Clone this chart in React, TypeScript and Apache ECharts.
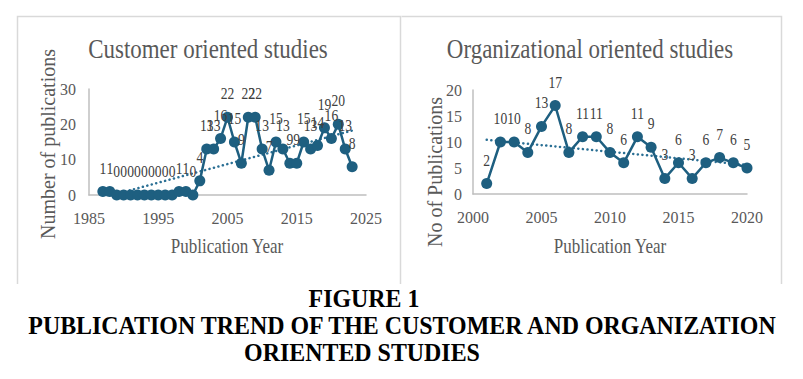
import React, { useEffect, useRef } from "react";
import * as echarts from "echarts";

const custYears = [1987, 1988, 1989, 1990, 1991, 1992, 1993, 1994, 1995, 1996, 1997, 1998, 1999, 2000, 2001, 2002, 2003, 2004, 2005, 2006, 2007, 2008, 2009, 2010, 2011, 2012, 2013, 2014, 2015, 2016, 2017, 2018, 2019, 2020, 2021, 2022, 2023];
const custCounts = [1, 1, 0, 0, 0, 0, 0, 0, 0, 0, 0, 1, 1, 0, 4, 13, 13, 16, 22, 15, 9, 22, 22, 13, 7, 15, 13, 9, 9, 15, 13, 14, 19, 16, 20, 13, 8];
const orgYears = [2001, 2002, 2003, 2004, 2005, 2006, 2007, 2008, 2009, 2010, 2011, 2012, 2013, 2014, 2015, 2016, 2017, 2018, 2019, 2020];
const orgCounts = [2, 10, 10, 8, 13, 17, 8, 11, 11, 8, 6, 11, 9, 3, 6, 3, 6, 7, 6, 5];

const custTitle = "Customer oriented studies";
const orgTitle = "Organizational oriented studies";
const custYName = "Number of publications";
const orgYName = "No of Publications";
const xName = "Publication Year";
const captionLines = ["FIGURE 1", "PUBLICATION TREND OF THE CUSTOMER AND ORGANIZATION", "ORIENTED STUDIES"];

function trend(xs: number[], ys: number[]): number[][] {
  const n = xs.length;
  const mx = xs.reduce((a, b) => a + b, 0) / n;
  const my = ys.reduce((a, b) => a + b, 0) / n;
  let sxy = 0, sxx = 0;
  for (let i = 0; i < n; i++) {
    sxy += (xs[i] - mx) * (ys[i] - my);
    sxx += (xs[i] - mx) * (xs[i] - mx);
  }
  const b = sxy / sxx;
  const a = my - b * mx;
  return [[xs[0], a + b * xs[0]], [xs[n - 1], a + b * xs[n - 1]]];
}

const SERIF = "'Liberation Serif', 'Times New Roman', serif";
const MAIN = "#1e5f80";
const GRAY = "#595959";

export default function App() {
  const ref = useRef<HTMLDivElement>(null);
  useEffect(() => {
    document.body.style.margin = "0";
    const chart = echarts.init(ref.current!, undefined, { renderer: "svg" });
    const axisLabel = { color: GRAY, fontFamily: SERIF, fontSize: 16, formatter: (v: number) => String(v) };
    const axisLine = { show: true, lineStyle: { color: "#bfbfbf", width: 1.5 } };
    const mainSeries = (xs: number[], ys: number[], idx: number) => ({
      type: "line",
      xAxisIndex: idx,
      yAxisIndex: idx,
      data: xs.map((x, i) => [x, ys[i]]),
      symbol: "circle",
      symbolSize: 11,
      itemStyle: { color: MAIN },
      lineStyle: { color: MAIN, width: 2.5 },
      z: 3,
    });
    const labelSeries = (xs: number[], ys: number[], idx: number) => ({
      type: "custom",
      coordinateSystem: "cartesian2d",
      xAxisIndex: idx,
      yAxisIndex: idx,
      data: xs.map((x, i) => [x, ys[i]]),
      encode: { x: 0, y: 1 },
      clip: false,
      z: 4,
      renderItem: (params: any, api: any) => {
        const pt = api.coord([api.value(0), api.value(1)]);
        return {
          type: "text",
          x: pt[0],
          y: pt[1] - 24,
          scaleX: 0.8,
          style: {
            text: String(api.value(1)),
            font: "17px " + SERIF,
            fill: "#404040",
            textAlign: "center",
            textVerticalAlign: "middle",
          },
        };
      },
    });
    const trendSeries = (xs: number[], ys: number[], idx: number) => ({
      type: "line",
      xAxisIndex: idx,
      yAxisIndex: idx,
      data: trend(xs, ys),
      symbol: "none",
      clip: true,
      lineStyle: { color: "#2a6f94", width: 2.5, type: [0.1, 4.5], cap: "round" },
      z: 2,
    });
    const txt = (x: number, y: number, text: string, fontSize: number, opts: any = {}) => ({
      type: "text",
      x,
      y,
      scaleX: opts.scaleX ?? 0.85,
      rotation: opts.rotation ?? 0,
      style: {
        text,
        font: (opts.bold ? "bold " : "") + fontSize + "px " + SERIF,
        fill: opts.color ?? GRAY,
        textAlign: "center",
        textVerticalAlign: "middle",
      },
    });
    chart.setOption({
      animation: false,
      grid: [
        { left: 89, top: 89, width: 277, height: 106 },
        { left: 473, top: 90, width: 274, height: 104 },
      ],
      xAxis: [
        { type: "value", gridIndex: 0, min: 1985, max: 2025, interval: 10, splitLine: { show: false }, axisTick: { show: false }, axisLine, axisLabel: { ...axisLabel, margin: 15 } },
        { type: "value", gridIndex: 1, min: 2000, max: 2020, interval: 5, splitLine: { show: false }, axisTick: { show: false }, axisLine, axisLabel: { ...axisLabel, margin: 15 } },
      ],
      yAxis: [
        { type: "value", gridIndex: 0, min: 0, max: 30, interval: 10, splitLine: { show: false }, axisTick: { show: false }, axisLine, axisLabel: { ...axisLabel, margin: 13 } },
        { type: "value", gridIndex: 1, min: 0, max: 20, interval: 5, splitLine: { show: false }, axisTick: { show: false }, axisLine, axisLabel: { ...axisLabel, margin: 11 } },
      ],
      series: [
        trendSeries(custYears, custCounts, 0),
        mainSeries(custYears, custCounts, 0),
        labelSeries(custYears, custCounts, 0),
        trendSeries(orgYears, orgCounts, 1),
        mainSeries(orgYears, orgCounts, 1),
        labelSeries(orgYears, orgCounts, 1),
      ],
      graphic: [
        { type: "polyline", shape: { points: [[17.5, 284], [17.5, 16.5], [400.5, 16.5], [400.5, 284]] }, style: { stroke: "#d9d9d9", fill: "none", lineWidth: 1.5 } },
        { type: "polyline", shape: { points: [[401.5, 16.5], [781.5, 16.5], [781.5, 284]] }, style: { stroke: "#d9d9d9", fill: "none", lineWidth: 1.5 } },
        txt(208, 49, custTitle, 27),
        txt(590, 49, orgTitle, 27),
        txt(48, 144, custYName, 20, { rotation: Math.PI / 2, scaleX: 1 }),
        txt(435, 172, orgYName, 20, { rotation: Math.PI / 2, scaleX: 1 }),
        txt(227, 246, xName, 20),
        txt(610, 246, xName, 20),
        txt(364, 298, captionLines[0], 26, { bold: true, color: "#000", scaleX: 0.92 }),
        txt(402, 325, captionLines[1], 26, { bold: true, color: "#000", scaleX: 0.92 }),
        txt(362, 352, captionLines[2], 26, { bold: true, color: "#000", scaleX: 0.92 }),
      ],
    });
    return () => chart.dispose();
  }, []);
  return <div ref={ref} style={{ position: "absolute", left: 0, top: 0, width: 803, height: 379 }} />;
}
